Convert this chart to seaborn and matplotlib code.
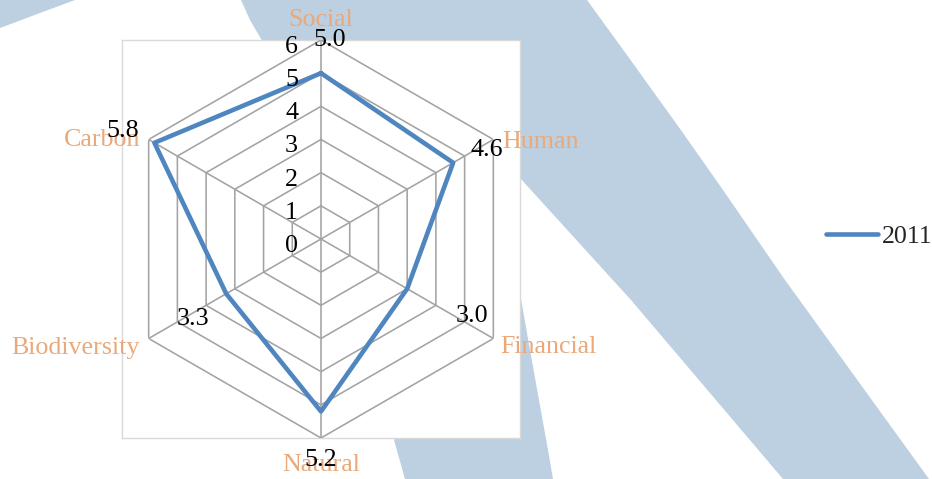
import numpy as np
import matplotlib
matplotlib.use("Agg")
import matplotlib.pyplot as plt
import seaborn as sns

# 데이터
categories = ['Social', 'Human', 'Financial', 'Natural', 'Biodiversity', 'Carbon']
values_2011 = [5.0, 4.6, 3.0, 5.2, 3.3, 5.8]
series_name = '2011'
r_ticks = [0, 1, 2, 3, 4, 5, 6]

sns.set_style('white')
plt.rcParams['font.family'] = ['Liberation Serif', 'DejaVu Serif']
plt.rcParams['font.size'] = 18.7

W, H = 932, 479
fig = plt.figure(figsize=(W / 100, H / 100), dpi=100)

# 배경 (연한 파란 띠)
bg = fig.add_axes([0, 0, 1, 1], zorder=0)
bg.set_xlim(0, W)
bg.set_ylim(H, 0)
bg.axis('off')
blue = '#bdd0e1'
band = [(241, 0), (587, 0), (632, 62), (683, 133), (723, 190), (785, 280),
        (929, 479), (783, 479), (631, 300), (520, 178), (400, 110), (300, 68), (264, 44), (250, 20)]
wedge = [(512, 260), (520, 293), (530, 350), (548, 450), (553, 479), (405, 479), (394, 440), (450, 330)]
corner = [(0, 0), (75, 0), (40, 13), (0, 28)]
for poly in (band, wedge, corner):
    xs, ys = zip(*poly)
    bg.fill(xs, ys, color=blue, lw=0)

# 차트 영역 박스
box_rect = [122 / W, 41 / H, 398 / W, 398 / H]
box = fig.add_axes(box_rect, zorder=1)
box.set_facecolor('white')
box.set_xticks([])
box.set_yticks([])
for s in box.spines.values():
    s.set_color('#d9d9d9')
    s.set_linewidth(1)

# 레이더
ax = fig.add_axes(box_rect, projection='polar', zorder=2)
ax.patch.set_alpha(0)
ax.set_theta_zero_location('N')
ax.set_theta_direction(-1)
ax.set_ylim(0, 6)
ax.grid(False)
ax.spines['polar'].set_visible(False)
ax.set_xticks([])
ax.set_yticks([])

n = len(categories)
angles = np.arange(n) * 2 * np.pi / n
closed = np.append(angles, 2 * np.pi)

grid_c = '#a3a3a3'
for r in r_ticks[1:]:
    ax.plot(closed, [r] * (n + 1), color=grid_c, lw=1.15, zorder=1)
for a in angles:
    ax.plot([a, a], [0, r_ticks[-1]], color=grid_c, lw=1.15, zorder=1)

sns.lineplot(x=closed, y=values_2011 + values_2011[:1], ax=ax, sort=False,
             color='#4f86c0', lw=3.3, label=series_name, zorder=3)

# 눈금 라벨
for r in r_ticks:
    ax.annotate(str(r), xy=(0, r), xytext=(-23, -7), textcoords='offset pixels',
                ha='right', va='center', color='black')

# 항목 라벨
cat_c = '#e9a97a'
cat_off = [(0, 20, 'center'), (9, -2, 'left'), (7, -9, 'left'),
           (0, -27, 'center'), (-9, -9, 'right'), (-8, -1, 'right')]
for a, name, (dx, dy, ha) in zip(angles, categories, cat_off):
    ax.annotate(name, xy=(a, 6), xytext=(dx, dy), textcoords='offset pixels',
                ha=ha, va='center', color=cat_c)

# 값 라벨
val_off = [(9, 33), (34, 13), (65, -27), (0, -49), (-33, -25), (-32, 12)]
for a, v, (dx, dy) in zip(angles, values_2011, val_off):
    ax.annotate(f'{v:.1f}', xy=(a, v), xytext=(dx, dy), textcoords='offset pixels',
                ha='center', va='center', color='black')

# 범례
h, l = ax.get_legend_handles_labels()
ax.get_legend().remove()
fig.legend(h, l, loc='center left', bbox_to_anchor=(826 / W, 1 - 236 / H),
           frameon=False, borderpad=0, handlelength=2.0, handletextpad=0.15,
           borderaxespad=0)

fig.savefig('out.png', dpi=100, facecolor='white')
